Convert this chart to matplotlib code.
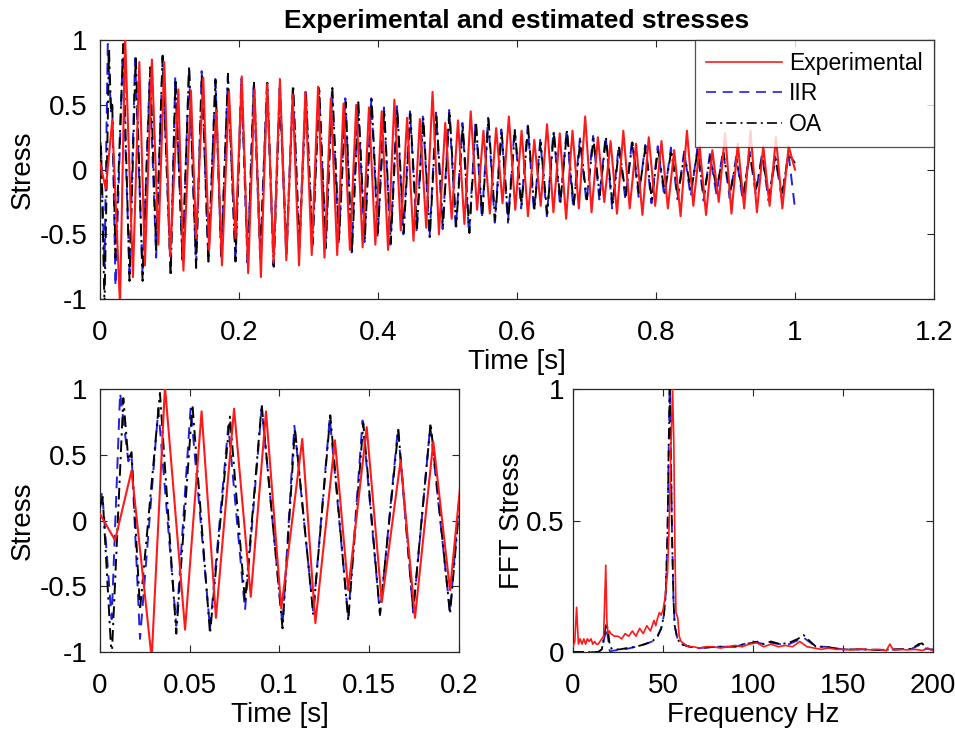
import matplotlib
matplotlib.use("Agg")
import matplotlib.pyplot as plt

plt.rcParams['font.family'] = ['Liberation Sans', 'DejaVu Sans']

# ---------------- time-domain data (extrema) ----------------
t_exp = [0.0, 0.0084, 0.0176, 0.0288, 0.0362, 0.0474, 0.0566, 0.0646, 0.0747, 0.084,
         0.0925, 0.101, 0.1127, 0.120, 0.1309, 0.1383, 0.1486, 0.157, 0.1675, 0.1755,
         0.1857, 0.195, 0.2040, 0.2132, 0.2223, 0.2315, 0.2406, 0.2498, 0.2589, 0.2681,
         0.2772, 0.2864, 0.2955, 0.3047, 0.3138, 0.3230, 0.3321, 0.3413, 0.3504, 0.3596,
         0.3687, 0.3779, 0.3870, 0.3962, 0.4053, 0.4145, 0.4236, 0.4328, 0.4419, 0.4511,
         0.4602, 0.4694, 0.4785, 0.4877, 0.4968, 0.5060, 0.5151, 0.5243, 0.5334, 0.5426,
         0.5517, 0.5609, 0.5700, 0.5792, 0.5883, 0.5975, 0.6066, 0.6158, 0.6249, 0.6341,
         0.6432, 0.6524, 0.6615, 0.6707, 0.6798, 0.6890, 0.6981, 0.7073, 0.7164, 0.7256,
         0.7347, 0.7439, 0.7530, 0.7622, 0.7713, 0.7805, 0.7896, 0.7988, 0.8079, 0.8171,
         0.8262, 0.8354, 0.8445, 0.8537, 0.8628, 0.8720, 0.8811, 0.8903, 0.8994, 0.9086,
         0.9177, 0.9269, 0.9360, 0.9452, 0.9543, 0.9635, 0.9726, 0.9818, 0.9909, 1.0]
y_exp = [0.05, -0.15, 0.38, -1.05, 1.02, -0.83, 0.83, -0.74, 0.85, -0.58,
         0.83, -0.67, 0.62, -0.78, 0.61, -0.53, 0.71, -0.62, 0.46, -0.74,
         0.60, -0.53, 0.72, -0.80, 0.62, -0.83, 0.66, -0.72, 0.70, -0.70,
         0.58, -0.74, 0.60, -0.66, 0.64, -0.68, 0.55, -0.66, 0.51, -0.62,
         0.50, -0.60, 0.48, -0.58, 0.45, -0.62, 0.54, -0.47, 0.40, -0.55,
         0.39, -0.45, 0.60, -0.50, 0.36, -0.38, 0.38, -0.42, 0.45, -0.31,
         0.30, -0.34, 0.32, -0.26, 0.41, -0.31, 0.30, -0.36, 0.23, -0.28,
         0.35, -0.33, 0.28, -0.38, 0.30, -0.30, 0.41, -0.33, 0.25, -0.25,
         0.22, -0.34, 0.30, -0.30, 0.20, -0.35, 0.25, -0.28, 0.22, -0.30,
         0.15, -0.36, 0.30, -0.28, 0.18, -0.35, 0.15, -0.25, 0.28, -0.34,
         0.20, -0.30, 0.30, -0.33, 0.18, -0.28, 0.25, -0.30, 0.18, 0.0]

t_iir = [0.0, 0.0012, 0.0065, 0.0112, 0.0158, 0.0176, 0.0223, 0.0325, 0.0425, 0.0505,
         0.0613, 0.0715, 0.0808, 0.0901, 0.1017, 0.1083, 0.1188, 0.1280, 0.1383, 0.1463,
         0.156, 0.1660, 0.1745, 0.1840, 0.195, 0.2033, 0.2122, 0.2211, 0.2305, 0.2403,
         0.2495, 0.2585, 0.2680, 0.2775, 0.2865, 0.2959, 0.3055, 0.3151, 0.3245, 0.3338,
         0.3435, 0.3530, 0.3621, 0.3712, 0.3805, 0.3904, 0.3995, 0.4085, 0.4179, 0.4273,
         0.4365, 0.4460, 0.4555, 0.4647, 0.4741, 0.4835, 0.4930, 0.5025, 0.5120, 0.5215,
         0.5310, 0.5405, 0.5495, 0.5585, 0.5680, 0.5775, 0.5870, 0.5965, 0.6060, 0.6155,
         0.6245, 0.6335, 0.6430, 0.6525, 0.6620, 0.6715, 0.6810, 0.6905, 0.7000, 0.7095,
         0.7185, 0.7275, 0.7370, 0.7465, 0.7560, 0.7655, 0.7750, 0.7845, 0.7935, 0.8025,
         0.8120, 0.8215, 0.8310, 0.8405, 0.8500, 0.8595, 0.8685, 0.8775, 0.8870, 0.8965,
         0.9060, 0.9155, 0.9250, 0.9345, 0.9435, 0.9525, 0.9620, 0.9715, 0.9810, 0.9905, 1.0]
y_iir = [0.12, 0.22, -0.75, 0.97, 0.45, 0.50, -0.90, 0.85, -0.80, 0.86,
         -0.82, 0.72, -0.68, 0.86, -0.80, 0.72, -0.70, 0.78, -0.74, 0.76,
         -0.72, 0.70, -0.70, 0.72, -0.70, 0.70, -0.72, 0.66, -0.68, 0.69,
         -0.74, 0.63, -0.66, 0.64, -0.62, 0.60, -0.59, 0.63, -0.61, 0.62,
         -0.57, 0.55, -0.64, 0.53, -0.56, 0.55, -0.52, 0.48, -0.58, 0.49,
         -0.50, 0.45, -0.48, 0.42, -0.53, 0.44, -0.46, 0.46, -0.46, 0.36,
         -0.50, 0.38, -0.38, 0.40, -0.41, 0.31, -0.41, 0.32, -0.30, 0.34,
         -0.33, 0.23, -0.36, 0.30, -0.28, 0.31, -0.30, 0.24, -0.26, 0.26,
         -0.23, 0.26, -0.30, 0.19, -0.23, 0.22, -0.21, 0.19, -0.26, 0.18,
         -0.21, 0.17, -0.23, 0.14, -0.21, 0.16, -0.24, 0.12, -0.19, 0.15,
         -0.22, 0.10, -0.24, 0.14, -0.19, 0.12, -0.24, 0.10, -0.22, 0.13, -0.30]

t_oa = [0.0, 0.0015, 0.0065, 0.013, 0.0158, 0.0176, 0.0223, 0.0334, 0.0425, 0.0515,
        0.0613, 0.0724, 0.0808, 0.0901, 0.1017, 0.1086, 0.1188, 0.1283, 0.1383, 0.1467,
        0.156, 0.1662, 0.1745, 0.1842, 0.195, 0.2038, 0.2127, 0.2216, 0.231, 0.2408,
        0.250, 0.259, 0.2685, 0.278, 0.287, 0.2964, 0.306, 0.3156, 0.325, 0.3343,
        0.344, 0.3535, 0.3626, 0.3717, 0.381, 0.3909, 0.400, 0.409, 0.4184, 0.4278,
        0.437, 0.4465, 0.456, 0.4652, 0.4746, 0.484, 0.4935, 0.503, 0.5125, 0.522,
        0.5315, 0.541, 0.550, 0.559, 0.5685, 0.578, 0.5875, 0.597, 0.6065, 0.616,
        0.625, 0.634, 0.6435, 0.653, 0.6625, 0.672, 0.6815, 0.691, 0.7005, 0.710,
        0.719, 0.728, 0.7375, 0.747, 0.7565, 0.766, 0.7755, 0.785, 0.794, 0.803,
        0.8125, 0.822, 0.8315, 0.841, 0.8505, 0.860, 0.869, 0.878, 0.8875, 0.897,
        0.9065, 0.916, 0.9255, 0.935, 0.944, 0.953, 0.9625, 0.972, 0.9815, 0.991, 1.0]
y_oa = [0.10, 0.18, -1.05, 0.93, 0.46, 0.52, -0.68, 0.97, -0.86, 0.88,
        -0.86, 0.79, -0.62, 0.88, -0.82, 0.70, -0.71, 0.80, -0.76, 0.74,
        -0.71, 0.69, -0.68, 0.74, -0.71, 0.68, -0.71, 0.67, -0.65, 0.67,
        -0.75, 0.61, -0.65, 0.65, -0.60, 0.59, -0.57, 0.61, -0.60, 0.63,
        -0.54, 0.52, -0.65, 0.52, -0.54, 0.54, -0.49, 0.46, -0.57, 0.47,
        -0.49, 0.43, -0.46, 0.40, -0.52, 0.43, -0.44, 0.45, -0.44, 0.34,
        -0.49, 0.37, -0.36, 0.39, -0.39, 0.29, -0.39, 0.30, -0.28, 0.33,
        -0.31, 0.21, -0.34, 0.29, -0.25, 0.30, -0.28, 0.22, -0.23, 0.24,
        -0.20, 0.25, -0.28, 0.17, -0.20, 0.21, -0.18, 0.18, -0.23, 0.16,
        -0.18, 0.15, -0.20, 0.12, -0.17, 0.15, -0.20, 0.10, -0.15, 0.13,
        -0.18, 0.08, -0.20, 0.12, -0.15, 0.10, -0.20, 0.08, -0.18, 0.12, 0.05]

# ---------------- spectrum data ----------------
f_exp = [0, 1.0, 2.0, 3.0, 4.0, 5, 6, 7, 8, 9, 10, 11, 12, 13, 14, 15, 16, 17, 18.2, 18.8,
         19.4, 20.2, 21, 23, 25, 27, 29, 31, 33, 35, 37, 39, 41, 43, 45, 46, 47, 48, 49, 50,
         51, 52.5, 53.5, 54.5, 55.3, 56.0, 56.6, 57.2, 58.2, 59.0, 60.0, 62, 64, 67, 70, 74,
         78, 82, 86, 90, 94, 98, 102, 106, 110, 114, 118, 122, 126, 130, 134, 138, 142, 146,
         150, 155, 160, 165, 170, 174, 176, 178, 182, 186, 190, 194, 197, 200]
a_exp = [0.02, 0.04, 0.17, 0.03, 0.05, 0.03, 0.05, 0.03, 0.05, 0.04, 0.05, 0.03, 0.04, 0.03,
         0.03, 0.04, 0.05, 0.06, 0.33, 0.12, 0.07, 0.08, 0.07, 0.06, 0.06, 0.05, 0.07, 0.06,
         0.08, 0.06, 0.09, 0.07, 0.10, 0.08, 0.12, 0.10, 0.13, 0.15, 0.14, 0.16, 0.20, 0.30,
         0.50, 0.80, 1.0, 0.80, 0.40, 0.15, 0.13, 0.06, 0.04, 0.03, 0.02, 0.02, 0.015, 0.02,
         0.02, 0.015, 0.02, 0.025, 0.02, 0.03, 0.035, 0.02, 0.03, 0.02, 0.025, 0.02, 0.04,
         0.02, 0.015, 0.01, 0.015, 0.01, 0.01, 0.008, 0.012, 0.008, 0.01, 0.005, 0.03, 0.008,
         0.01, 0.008, 0.01, 0.006, 0.012, 0.005]

f_iir = [0, 14, 16, 17, 18.5, 19.5, 20.5, 22, 26, 30, 35, 40, 44, 47, 49, 50.5, 51.5, 52.5,
         53.2, 53.7, 54.3, 55, 55.8, 56.5, 58, 60, 65, 70, 80, 90, 95, 100, 103, 106, 110,
         115, 120, 125, 128, 131, 135, 140, 145, 150, 160, 170, 180, 188, 192, 194, 196, 200]
a_iir = [0.0, 0.0, 0.01, 0.04, 0.09, 0.05, 0.0, 0.005, 0.008, 0.012, 0.02, 0.03, 0.04,
         0.06, 0.09, 0.14, 0.22, 0.45, 0.80, 1.0, 0.80, 0.45, 0.20, 0.10, 0.05, 0.03, 0.02,
         0.015, 0.02, 0.02, 0.03, 0.04, 0.035, 0.03, 0.035, 0.03, 0.03, 0.045, 0.055, 0.04,
         0.02, 0.02, 0.015, 0.01, 0.01, 0.008, 0.01, 0.012, 0.025, 0.03, 0.012, 0.01]

f_oa = [0, 14, 16, 17, 18.5, 19.5, 20.5, 22, 26, 30, 35, 40, 44, 47, 49, 50.5, 51.5, 52.5,
        53.2, 53.7, 54.3, 55, 55.8, 56.5, 58, 60, 65, 70, 80, 90, 95, 100, 103, 106, 110,
        115, 120, 125, 128, 131, 135, 140, 145, 150, 160, 170, 180, 188, 192, 194, 196, 200]
a_oa = [0.0, 0.0, 0.01, 0.05, 0.11, 0.08, 0.02, 0.01, 0.01, 0.015, 0.02, 0.03, 0.04,
        0.06, 0.09, 0.14, 0.22, 0.45, 0.80, 1.0, 0.80, 0.45, 0.20, 0.10, 0.05, 0.03, 0.02,
        0.015, 0.02, 0.02, 0.03, 0.035, 0.04, 0.03, 0.04, 0.03, 0.035, 0.05, 0.065, 0.045,
        0.02, 0.02, 0.015, 0.01, 0.01, 0.008, 0.01, 0.012, 0.03, 0.033, 0.015, 0.01]

# ---------------- styling ----------------
RED = '#ff1a1a'
BLUE = '#1f1fe6'
BLACK = '#000000'
SPINE = '#262626'
TICK_FS = 20
LABEL_FS = 20


def style_axes(ax, ypad=9):
    for s in ax.spines.values():
        s.set_color(SPINE)
        s.set_linewidth(0.9)
    ax.tick_params(direction='in', top=True, right=True, length=5, width=0.8,
                   colors=SPINE, labelcolor='black', labelsize=TICK_FS)
    ax.tick_params(axis='x', pad=15)
    ax.tick_params(axis='y', pad=ypad)


def draw_series(ax, te, ye, ti, yi, to, yo):
    h_i, = ax.plot(ti, yi, color=BLUE, lw=1.4, ls=(0, (6, 4)), label='IIR', zorder=2)
    h_o, = ax.plot(to, yo, color=BLACK, lw=1.4, ls=(0, (6, 2.5, 1.2, 2.5)), label='OA', zorder=3)
    h_e, = ax.plot(te, ye, color=RED, lw=1.5, ls='-', label='Experimental', zorder=4)
    return h_e, h_i, h_o


fig = plt.figure(figsize=(9.55, 7.33), dpi=100)

# top axes
ax1 = fig.add_axes([0.1047, 0.592, 0.8733, 0.3533])
h_e, h_i, h_o = draw_series(ax1, t_exp, y_exp, t_iir, y_iir, t_oa, y_oa)
ax1.set_xlim(0, 1.2)
ax1.set_ylim(-1, 1)
ax1.set_xticks([0, 0.2, 0.4, 0.6, 0.8, 1.0, 1.2])
ax1.set_xticklabels(['0', '0.2', '0.4', '0.6', '0.8', '1', '1.2'])
ax1.set_yticks([-1, -0.5, 0, 0.5, 1])
ax1.set_yticklabels(['-1', '-0.5', '0', '0.5', '1'])
style_axes(ax1)
ax1.set_xlabel('Time [s]', fontsize=LABEL_FS, labelpad=2)
ax1.set_ylabel('Stress', fontsize=LABEL_FS, labelpad=3)
ax1.set_title('Experimental and estimated stresses', fontsize=19, fontweight='bold', pad=9)
leg = ax1.legend([h_e, h_i, h_o], ['Experimental', 'IIR', 'OA'], loc='upper right',
                 fontsize=16.5, frameon=True, fancybox=False, edgecolor=SPINE,
                 borderaxespad=0, handlelength=3.3, handletextpad=0.3,
                 labelspacing=0.33, borderpad=0.5)
leg.get_frame().set_linewidth(0.9)
for ln in leg.get_lines():
    ln.set_linewidth(1.2)

# bottom-left axes
ax2 = fig.add_axes([0.1047, 0.1105, 0.3759, 0.3588])
draw_series(ax2, t_exp, y_exp, t_iir, y_iir, t_oa, y_oa)
ax2.set_xlim(0, 0.2)
ax2.set_ylim(-1, 1)
ax2.set_xticks([0, 0.05, 0.1, 0.15, 0.2])
ax2.set_xticklabels(['0', '0.05', '0.1', '0.15', '0.2'])
ax2.set_yticks([-1, -0.5, 0, 0.5, 1])
ax2.set_yticklabels(['-1', '-0.5', '0', '0.5', '1'])
style_axes(ax2)
ax2.set_xlabel('Time [s]', fontsize=LABEL_FS, labelpad=2)
ax2.set_ylabel('Stress', fontsize=LABEL_FS, labelpad=3)

# bottom-right axes
ax3 = fig.add_axes([0.6, 0.1105, 0.377, 0.3588])
ax3.plot(f_iir, a_iir, color=BLUE, lw=1.3, ls=(0, (6, 4)), zorder=2)
ax3.plot(f_oa, a_oa, color=BLACK, lw=1.3, ls=(0, (6, 2.5, 1.2, 2.5)), zorder=3)
ax3.plot(f_exp, a_exp, color=RED, lw=1.2, ls='-', zorder=4)
ax3.set_xlim(0, 200)
ax3.set_ylim(0, 1)
ax3.set_xticks([0, 50, 100, 150, 200])
ax3.set_yticks([0, 0.5, 1])
ax3.set_yticklabels(['0', '0.5', '1'])
style_axes(ax3, ypad=6)
ax3.set_xlabel('Frequency Hz', fontsize=LABEL_FS, labelpad=2)
ax3.set_ylabel('FFT Stress', fontsize=LABEL_FS, labelpad=1)

fig.savefig('out.png', dpi=100)
